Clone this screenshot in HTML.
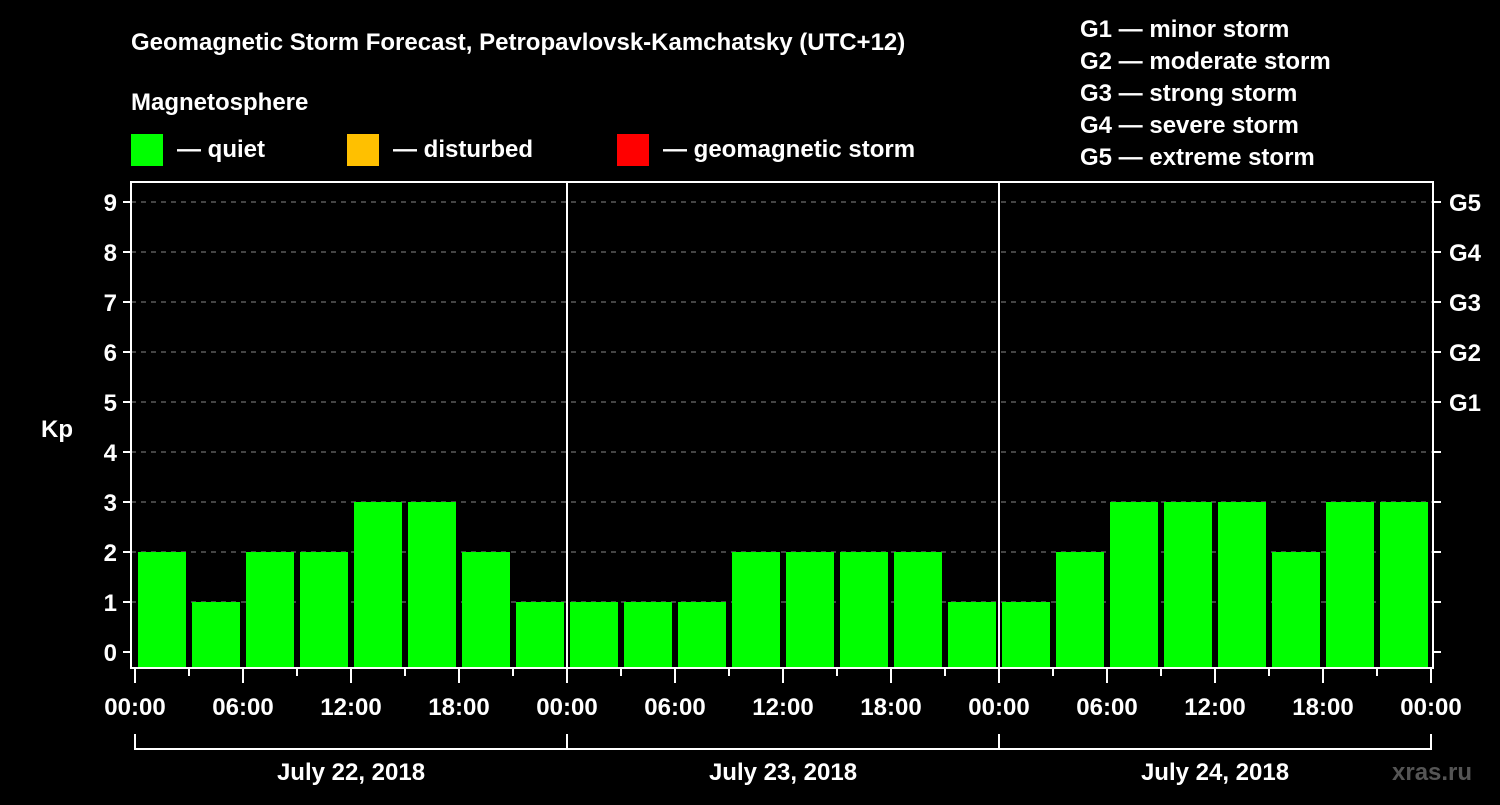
<!DOCTYPE html>
<html><head><meta charset="utf-8"><style>
body{margin:0;background:#000;}
svg text{font-family:"Liberation Sans",sans-serif;font-weight:bold;fill:#fff;}
</style></head><body>
<svg width="1500" height="800" xmlns="http://www.w3.org/2000/svg">
<rect width="1500" height="800" fill="#000"/>
<text x="131" y="50" font-size="24">Geomagnetic Storm Forecast, Petropavlovsk-Kamchatsky (UTC+12)</text>
<text x="131" y="110" font-size="24">Magnetosphere</text>
<g>
<rect x="131" y="134" width="32" height="32" fill="#00ff00"/>
<text x="177" y="157" font-size="24">— quiet</text>
<rect x="347" y="134" width="32" height="32" fill="#ffc000"/>
<text x="393" y="157" font-size="24">— disturbed</text>
<rect x="617" y="134" width="32" height="32" fill="#ff0000"/>
<text x="663" y="157" font-size="24">— geomagnetic storm</text>
</g>
<g font-size="24">
<text x="1080" y="37">G1 — minor storm</text>
<text x="1080" y="69">G2 — moderate storm</text>
<text x="1080" y="101">G3 — strong storm</text>
<text x="1080" y="133">G4 — severe storm</text>
<text x="1080" y="165">G5 — extreme storm</text>
</g>
<g id="plot"></g>
<text x="41" y="437" font-size="24">Kp</text>
<text x="1392" y="780" font-size="24" style="fill:#555">xras.ru</text>
</svg>
<script>
const days = ["July 22, 2018","July 23, 2018","July 24, 2018"];
const kpValues = [2,1,2,2,3,3,2,1, 1,1,1,2,2,2,2,1, 1,2,3,3,3,2,3,3];
const yTicks = [0,1,2,3,4,5,6,7,8,9];
const gLabels = ["G1","G2","G3","G4","G5"];
const hourLabels = ["00:00","06:00","12:00","18:00"];

const NS="http://www.w3.org/2000/svg";
const g=document.getElementById('plot');
const X0=135, DAYW=432, SLOT=DAYW/8;
const PL=131, PR=1433, PT=182, PB=668;
const y=v=>652-v*50;
const x=i=>X0+i*SLOT;
function mk(t,a,p){const e=document.createElementNS(NS,t);for(const k in a)e.setAttribute(k,a[k]);(p||g).appendChild(e);return e;}

yTicks.forEach(v=>{
  if(v>0){const l=mk('line',{x1:PL,x2:PR,y1:y(v),y2:y(v),stroke:'#888','stroke-width':1,'stroke-dasharray':'5,5'});
  
  }
  const t=mk('line',{x1:PL-8,x2:PL,y1:y(v),y2:y(v),stroke:'#fff','stroke-width':2});
  
  
  const t2=mk('line',{x1:PR,x2:PR+8,y1:y(v),y2:y(v),stroke:'#fff','stroke-width':2});
  
  
  const tx=mk('text',{x:PL-14,y:y(v)+9,'font-size':24,'text-anchor':'end'});
  tx.textContent=v;
  
  
});
gLabels.forEach((s,i)=>{
  const tx=mk('text',{x:PR+16,y:y(5+i)+9,'font-size':24});
  tx.textContent=s;
  
  
});
kpValues.forEach((v,i)=>{
  const c=v>=5?'#ff0000':(v>=4?'#ffc000':'#00ff00');
  const r=mk('rect',{x:x(i)+3,y:y(v),width:SLOT-6,height:PB-y(v),fill:c});
  
  
});
for(let d=1;d<days.length;d++){
  const l=mk('line',{x1:x(d*8),x2:x(d*8),y1:PT,y2:PB,stroke:'#fff','stroke-width':2});
  
  
}
const fr=mk('rect',{x:PL,y:PT,width:PR-PL,height:PB-PT,fill:'none',stroke:'#fff','stroke-width':2});


for(let i=0;i<=kpValues.length;i++){
  const major=i%2===0;
  const t=mk('line',{x1:x(i),x2:x(i),y1:PB,y2:PB+(major?15:8),stroke:'#fff','stroke-width':2});
  
  
  if(major){
    const tx=mk('text',{x:x(i),y:715,'font-size':24,'text-anchor':'middle'});
    tx.textContent=hourLabels[(i/2)%4];
    
    
  }
}
days.forEach((d,k)=>{
  const p=mk('path',{d:`M${x(k*8)},734V749H${x(k*8+8)}V734`,fill:'none',stroke:'#fff','stroke-width':2});
  
  
  const tx=mk('text',{x:x(k*8)+DAYW/2,y:780,'font-size':24,'text-anchor':'middle'});
  tx.textContent=d;
  
  
});
</script>
</body></html>
